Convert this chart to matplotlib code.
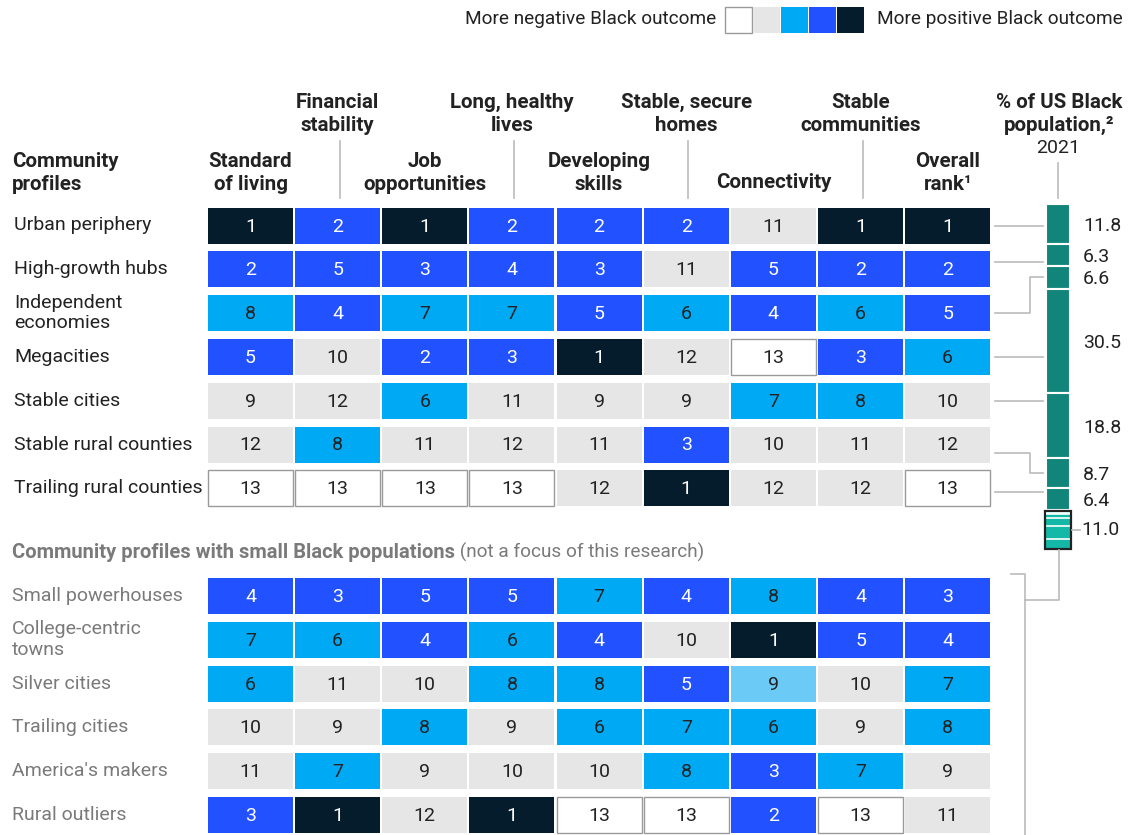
"""Community profile rankings across nine dimensions of Black outcomes."""
import matplotlib
matplotlib.use("Agg")
import matplotlib.pyplot as plt
from matplotlib.patches import Rectangle
import numpy as np

plt.rcParams['font.family'] = ['Roboto', 'DejaVu Sans']

columns = ["Standard\nof living", "Financial\nstability", "Job\nopportunities",
           "Long, healthy\nlives", "Developing\nskills", "Stable, secure\nhomes",
           "Connectivity", "Stable\ncommunities", "Overall\nrank\u00b9"]

focus_profiles = ["Urban periphery", "High-growth hubs", "Independent\neconomies",
                  "Megacities", "Stable cities", "Stable rural counties",
                  "Trailing rural counties"]
focus_ranks = [
    [1, 2, 1, 2, 2, 2, 11, 1, 1],
    [2, 5, 3, 4, 3, 11, 5, 2, 2],
    [8, 4, 7, 7, 5, 6, 4, 6, 5],
    [5, 10, 2, 3, 1, 12, 13, 3, 6],
    [9, 12, 6, 11, 9, 9, 7, 8, 10],
    [12, 8, 11, 12, 11, 3, 10, 11, 12],
    [13, 13, 13, 13, 12, 1, 12, 12, 13],
]
focus_share = [11.8, 6.3, 6.6, 30.5, 18.8, 8.7, 6.4]

small_profiles = ["Small powerhouses", "College-centric\ntowns", "Silver cities",
                  "Trailing cities", "America's makers", "Rural outliers"]
small_ranks = [
    [4, 3, 5, 5, 7, 4, 8, 4, 3],
    [7, 6, 4, 6, 4, 10, 1, 5, 4],
    [6, 11, 10, 8, 8, 5, 9, 10, 7],
    [10, 9, 8, 9, 6, 7, 6, 9, 8],
    [11, 7, 9, 10, 10, 8, 3, 7, 9],
    [3, 1, 12, 1, 13, 13, 2, 13, 11],
]
small_share = [0.5, 0.4, 1.0, 2.3, 4.0, 2.8]
small_share_total = 11.0
# cells shown in a lighter tint (row, column) in the small-population block
light_cells = [(2, 6)]

NAVY, BLUE, CYAN, LCYAN, GREY = "#051c2c", "#2251ff", "#00a9f4", "#6ccbf6", "#e6e6e6"
TEAL, LTEAL = "#12857a", "#14b8a6"
DARK, MUTED, RULE = "#222222", "#7a7a7a", "#bbbbbb"


def rank_color(rank):
    if rank == 1:
        return NAVY
    if rank <= 5:
        return BLUE
    if rank <= 8:
        return CYAN
    if rank <= 12:
        return GREY
    return "white"


fig = plt.figure(figsize=(11.35, 8.35), dpi=100)
ax = fig.add_axes([0, 0, 1, 1])
ax.set_xlim(0, 1135)
ax.set_ylim(835, 0)
ax.axis("off")

# layout (pixels)
x0, col_step, cell_w = 208, 87.15, 85
cell_h = 36
top_y0, bot_y0, row_step = 225.5, 596, 43.8
fs = 14       # regular text
fsb = 14.8    # bold headers
col_x = x0 + col_step * np.arange(len(columns)) + cell_w / 2


def draw_block(ranks, y_start, light=()):
    ranks = np.array(ranks)
    for i, row in enumerate(ranks):
        yc = y_start + i * row_step
        for j, r in enumerate(row):
            color = LCYAN if (i, j) in light else rank_color(r)
            edge = "#9a9a9a" if r == 13 else "none"
            ax.add_patch(Rectangle((col_x[j] - cell_w / 2, yc - cell_h / 2), cell_w, cell_h,
                                   facecolor=color, edgecolor=edge, lw=1.0))
            tc = "white" if color in (NAVY, BLUE) else DARK
            ax.text(col_x[j], yc + 1, str(r), ha="center", va="center", fontsize=fs,
                    color=tc)


draw_block(focus_ranks, top_y0)
draw_block(small_ranks, bot_y0, light_cells)

# row labels
for i, name in enumerate(focus_profiles):
    ax.text(14, top_y0 + i * row_step, name, ha="left", va="center", fontsize=fs,
            color=DARK, linespacing=1.2)
for i, name in enumerate(small_profiles):
    ax.text(12, bot_y0 + i * row_step, name, ha="left", va="center", fontsize=fs,
            color=MUTED, linespacing=1.2)

# column headers, alternating upper / lower
for j, name in enumerate(columns):
    if j % 2 == 0:
        yc = 183 if "\n" not in name else 173
        ax.text(col_x[j], yc, name, ha="center", va="center", fontsize=fsb,
                fontweight="bold", color=DARK, linespacing=1.3)
    else:
        ax.text(col_x[j], 114, name, ha="center", va="center", fontsize=fsb,
                fontweight="bold", color=DARK, linespacing=1.3)
        ax.plot([col_x[j] + 2, col_x[j] + 2], [141, 198], color=RULE, lw=1.2)

ax.text(12, 173, "Community\nprofiles", ha="left", va="center", fontsize=fsb,
        fontweight="bold", color=DARK, linespacing=1.3)

bar_x, bar_w, bar_top, px_per = 1046, 24, 204, 3.43
bar_c = bar_x + bar_w / 2
ax.text(bar_c + 1, 114, "% of US Black\npopulation,\u00b2", ha="center", va="center",
        fontsize=fsb, fontweight="bold", color=DARK, linespacing=1.3)
ax.text(bar_c, 148, "2021", ha="center", va="center", fontsize=fs, color=DARK)
ax.plot([bar_c, bar_c], [163, 198], color=RULE, lw=1.2)

# legend
ax.text(716, 19, "More negative Black outcome", ha="right", va="center", fontsize=13.7,
        color=DARK)
for k, c in enumerate(["white", GREY, CYAN, BLUE, NAVY]):
    ax.add_patch(Rectangle((725 + k * 28, 7), 27, 26, facecolor=c,
                           edgecolor="#9a9a9a" if c == "white" else "none", lw=1.0))
ax.text(877, 19, "More positive Black outcome", ha="left", va="center", fontsize=13.7,
        color=DARK)

# section title for small populations
t1 = ax.text(12, 552, "Community profiles with small Black populations", ha="left",
             va="center", fontsize=14.5, fontweight="bold", color=MUTED)
ax.annotate(" (not a focus of this research)", xy=(1, 0.5), xycoords=t1,
            ha="left", va="center", fontsize=13.7, color=MUTED)

# stacked population bar
tops = bar_top + px_per * np.concatenate([[0], np.cumsum(focus_share)])
table_right = col_x[-1] + cell_w / 2
for i, share in enumerate(focus_share):
    t, b = tops[i], tops[i + 1]
    ax.add_patch(Rectangle((bar_x, t), bar_w, b - t, facecolor=TEAL,
                           edgecolor="white", lw=1.5))
    seg_c = (t + b) / 2
    ax.text(1083, seg_c + 2, f"{share:.1f}", ha="left", va="center",
            fontsize=fs, color=DARK)
    row_c = top_y0 + i * row_step
    y = min(max(row_c, t + 4), b - 4)
    if abs(y - row_c) < 12:
        ax.plot([table_right + 5, bar_x - 3], [y, y], color=RULE, lw=1.2)
    else:
        y_start = min(max(seg_c, row_c), row_c + 8)
        ax.plot([table_right + 5, 1030, 1030, bar_x - 3],
                [y_start, y_start, seg_c, seg_c], color=RULE, lw=1.2)

# small-population share, outlined
s_top = tops[-1] + 1.5
s_bot = s_top + px_per * small_share_total
sub = s_top + px_per * np.cumsum(small_share)
ax.add_patch(Rectangle((bar_x, s_top), bar_w, s_bot - s_top, facecolor=LTEAL,
                       edgecolor="none"))
for yy in sub[:-1]:
    ax.plot([bar_x + 1, bar_x + bar_w - 1], [yy, yy], color="white", lw=1.2)
ax.add_patch(Rectangle((bar_x - 1, s_top), bar_w + 2, s_bot - s_top, facecolor="none",
                       edgecolor="#222222", lw=1.6))
s_c = (s_top + s_bot) / 2
ax.plot([bar_x + bar_w + 2, 1080], [s_c, s_c], color=RULE, lw=1.2)
ax.text(1081, s_c, f"{small_share_total:.1f}", ha="left", va="center", fontsize=fs,
        color=DARK)

# bracket around small-population block
br_top = bot_y0 - cell_h / 2 - 4
ax.plot([1011, 1025, 1025], [br_top, br_top, 835], color=RULE, lw=1.2)
ax.plot([1025, bar_c + 1, bar_c + 1], [br_top + 26, br_top + 26, s_bot + 1],
        color=RULE, lw=1.2)

fig.savefig("out.png", dpi=100)
plt.close(fig)
